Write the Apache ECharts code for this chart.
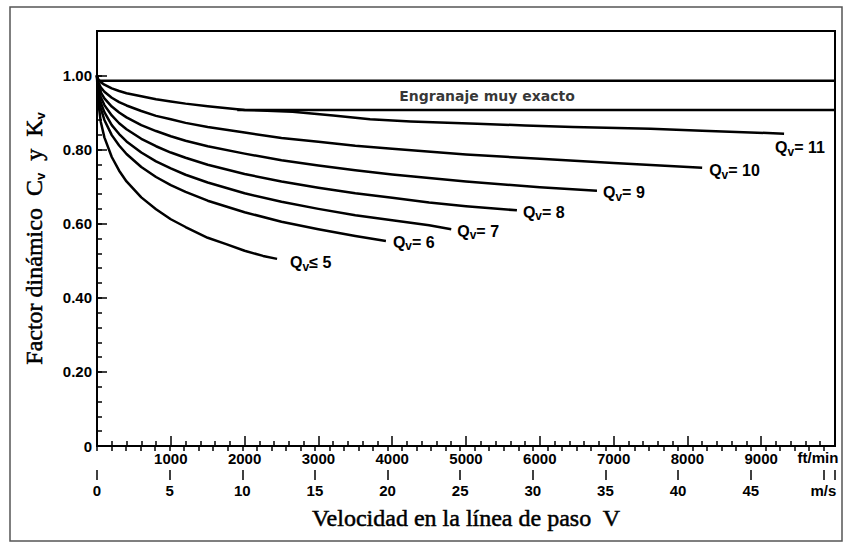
<!DOCTYPE html>
<html><head><meta charset="utf-8">
<script src="https://cdn.jsdelivr.net/npm/echarts@6/dist/echarts.min.js"></script>
<style>html,body{margin:0;padding:0;background:#fff}#c{width:845px;height:543px}</style>
</head><body><div id="c"></div>
<script>
// ---- tick labels ----
const ftLabels = [1000, 2000, 3000, 4000, 5000, 6000, 7000, 8000, 9000];
const msLabels = [0, 5, 10, 15, 20, 25, 30, 35, 40, 45, 50];
const yLabels = [0, 0.2, 0.4, 0.6, 0.8, 1.0];
const FT_MAX = 10000;          // ft/min
const MS_MAX = 50.8;           // same span in m/s
const Y_MAX = 1.12;

// ---- curves: [V ft/min, Cv] ----
const qv11 = [[0,1.0],[10,0.992],[50,0.982],[100,0.975],[200,0.965],[300,0.958],[400,0.952],[600,0.944],[800,0.936],[1000,0.930],[1200,0.924],[1500,0.917],[2000,0.907],[2650,0.902],[3200,0.892],[3700,0.882],[4250,0.876],[5150,0.870],[5800,0.865],[6450,0.861],[7500,0.856],[8200,0.851],[9310,0.843]];
const qv10 = [[0,1.0],[10,0.985],[50,0.968],[100,0.956],[200,0.940],[300,0.928],[400,0.919],[600,0.904],[800,0.891],[1000,0.882],[1200,0.872],[1500,0.861],[2000,0.846],[2500,0.831],[3000,0.821],[3500,0.810],[4000,0.802],[5000,0.787],[6000,0.775],[7000,0.764],[8200,0.751]];
const qv9  = [[0,1.0],[10,0.979],[50,0.955],[100,0.938],[200,0.916],[300,0.900],[400,0.887],[600,0.866],[800,0.850],[1000,0.836],[1200,0.824],[1500,0.809],[2000,0.789],[2500,0.771],[3000,0.757],[3500,0.744],[4000,0.733],[5000,0.714],[6000,0.698],[6775,0.689]];
const qv8  = [[0,1.0],[10,0.973],[50,0.942],[100,0.920],[200,0.892],[300,0.871],[400,0.855],[600,0.829],[800,0.809],[1000,0.792],[1200,0.778],[1500,0.759],[2000,0.734],[2500,0.714],[3000,0.697],[3500,0.682],[4000,0.670],[4500,0.657],[5000,0.647],[5690,0.636]];
const qv7  = [[0,1.0],[10,0.966],[50,0.927],[100,0.901],[200,0.866],[300,0.842],[400,0.822],[600,0.792],[800,0.768],[1000,0.749],[1200,0.732],[1500,0.711],[2000,0.682],[2500,0.659],[3000,0.640],[3500,0.623],[4000,0.609],[4500,0.596],[4800,0.585]];
const qv6  = [[0,1.0],[10,0.958],[50,0.912],[100,0.880],[200,0.839],[300,0.811],[400,0.788],[600,0.753],[800,0.726],[1000,0.704],[1200,0.686],[1500,0.662],[2000,0.631],[2500,0.605],[3000,0.585],[3500,0.567],[3915,0.553]];
const qv5  = [[0,1.0],[10,0.940],[50,0.876],[100,0.833],[200,0.780],[300,0.743],[400,0.714],[600,0.671],[800,0.639],[1000,0.612],[1200,0.591],[1500,0.562],[1750,0.545],[2000,0.527],[2250,0.513],[2440,0.505]];

// band "Engranaje muy exacto"
const bandTop = [[0,0.986],[10000,0.986]];
const bandBottom = [[1900,0.907],[10000,0.907]];
const bandText = [[5285,0.945]];

const curveTags = ['= 11','= 10','= 9','= 8','= 7','= 6','≤ 5'];
const curves = [qv11, qv10, qv9, qv8, qv7, qv6, qv5];
const labelOffsets = [[-9,14],[7,3],[6,2],[6,2],[6,2],[7,1],[13,4]];

// ---- ticks derived from the labels ----
const yMinor = []; for (let i = 0; i <= 25; i++) yMinor.push(+(i*0.04).toFixed(2));
const msMinor = []; for (let i = 0; i <= 50; i++) msMinor.push(i);
const msMajor = msLabels.concat([MS_MAX]);

const SANS = 'Liberation Sans, Arial, sans-serif';
const SERIF = 'Liberation Serif, Times New Roman, serif';
const tickLab = {color:'#000', fontFamily:SANS, fontWeight:'bold', fontSize:15};
const blk = {color:'#000', width:2};
const tickLine = {color:'#000', width:1.5};

const chart = echarts.init(document.getElementById('c'), null, {renderer:'svg'});

const series = curves.map((d, i) => ({
  type:'line', xAxisIndex:0, yAxisIndex:0, data:d,
  showSymbol:false, smooth:false,
  lineStyle:{color:'#000', width:2.5, join:'round'}, silent:true,
  endLabel:{show:true, distance:0, offset:labelOffsets[i],
    formatter: () => '{q|Q}{s|v}{q|' + curveTags[i] + '}',
    rich:{
      q:{fontFamily:SANS, fontWeight:'bold', fontSize:16, color:'#000', lineHeight:20},
      s:{fontFamily:SANS, fontWeight:'bold', fontSize:12, color:'#000', lineHeight:12, verticalAlign:'bottom'}
    }}
}));
series.push({type:'line', data:bandTop, showSymbol:false, lineStyle:{color:'#000', width:2.5}, silent:true});
series.push({type:'line', data:bandBottom, showSymbol:false, lineStyle:{color:'#000', width:2.5}, silent:true});
series.push({type:'scatter', data:bandText, symbolSize:0, silent:true,
  label:{show:true, position:'inside', formatter:'Engranaje muy exacto',
    fontFamily:'DejaVu Sans, sans-serif', fontWeight:'bold', fontSize:14, color:'#000'}});

const titleStyle = {fontFamily:SERIF, fontSize:24, color:'#000', textBorderColor:'#000', textBorderWidth:0.5};

chart.setOption({
  animation:false,
  backgroundColor:'#fff',
  grid:{left:97, right:10, top:31, bottom:97, show:true, borderColor:'#000', borderWidth:2},
  xAxis:[
    {type:'value', min:0, max:FT_MAX, interval:1000, position:'bottom',
     axisLine:{lineStyle:blk}, splitLine:{show:false},
     axisTick:{inside:true, length:10, lineStyle:tickLine},
     minorTick:{show:true, splitNumber:5, length:5, lineStyle:tickLine},
     axisLabel:Object.assign({customValues:ftLabels, margin:5, formatter:v => String(v)}, tickLab)},
    {type:'value', min:0, max:MS_MAX, position:'bottom', offset:24,
     axisLine:{lineStyle:blk}, splitLine:{show:false},
     axisTick:{customValues:msMinor, interval:0, length:5, lineStyle:tickLine},
     axisLabel:{show:false},
     name:'Velocidad en la línea de paso  V', nameLocation:'middle', nameGap:36,
     nameTextStyle:titleStyle},
    {type:'value', min:0, max:MS_MAX, position:'bottom', offset:24,
     axisLine:{show:false}, splitLine:{show:false},
     axisTick:{customValues:msMajor, interval:0, length:10, lineStyle:tickLine},
     axisLabel:Object.assign({customValues:msLabels, interval:0, margin:13,
       formatter:v => v === 50 ? 'm/s' : String(v)}, tickLab)}
  ],
  yAxis:[
    {type:'value', min:0, max:Y_MAX, position:'left',
     axisLine:{lineStyle:blk}, splitLine:{show:false},
     axisTick:{customValues:yLabels, interval:0, inside:true, length:10, lineStyle:tickLine},
     axisLabel:Object.assign({customValues:yLabels, interval:0, margin:5,
       formatter:v => v === 0 ? '0' : v.toFixed(2)}, tickLab),
     name:'{t|Factor dinámico  C}{s|v}{t|  y  K}{s|v}', nameLocation:'middle', nameGap:50, nameRotate:90,
     nameTextStyle:{rich:{
       t:Object.assign({lineHeight:26}, titleStyle),
       s:{fontFamily:SANS, fontWeight:'bold', fontSize:13, color:'#000', lineHeight:13, verticalAlign:'bottom'}}}},
    {type:'value', min:0, max:Y_MAX, position:'left',
     axisLine:{show:false}, splitLine:{show:false}, axisLabel:{show:false},
     axisTick:{customValues:yMinor, interval:0, inside:true, length:5, lineStyle:tickLine}}
  ],
  graphic:[
    {type:'rect', shape:{x:10, y:7, width:832, height:534}, style:{fill:null, stroke:'#555', lineWidth:1.5}, silent:true},
    {type:'text', x:818, y:457, style:{text:'ft/min', font:'bold 15px ' + SANS, fill:'#000', align:'center', verticalAlign:'middle'}}
  ],
  series:series
});
</script></body></html>
